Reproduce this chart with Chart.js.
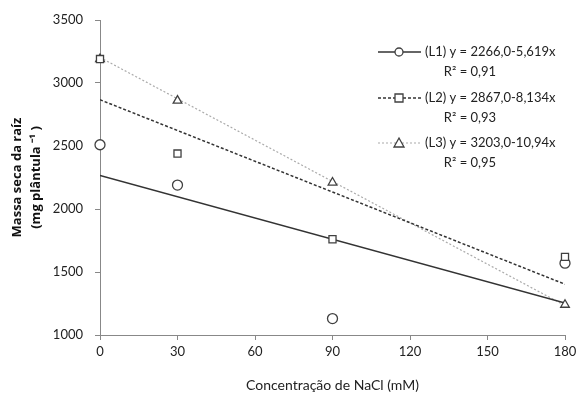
<!DOCTYPE html>
<html>
<head>
<meta charset="utf-8">
<script src="https://cdn.jsdelivr.net/npm/chart.js@4"></script>
<style>
  body { margin: 0; background: #fff; }
</style>
</head>
<body>
<canvas id="grafico" width="582" height="394"></canvas>
<script>
// doses de NaCl (mM)
const doses = [0, 30, 90, 180];
// massa seca observada por linhagem
const massaL1 = [2510, 2190, 1130, 1570];
const massaL2 = [3190, 2440, 1760, 1620];
const massaL3 = [3190, 2860, 2210, 1240];
// coeficientes das regressoes (a + b*x)
const coefL1 = [2266.0, -5.619];
const coefL2 = [2867.0, -8.134];
const coefL3 = [3203.0, -10.94];
const eqTexto = ["(L1) y = 2266,0-5,619x", "(L2) y = 2867,0-8,134x", "(L3) y = 3203,0-10,94x"];
const r2Texto = ["R² = 0,91", "R² = 0,93", "R² = 0,95"];
const xTicks = [0, 30, 60, 90, 120, 150, 180];
const yTicks = [1000, 1500, 2000, 2500, 3000, 3500];

const fonte = "Lato, 'Open Sans', sans-serif";
const cinza = "#404040";

function pontos(ys) {
  return doses.map((x, i) => ({ x: x, y: ys[i] }));
}
function reta(c) {
  return [0, 180].map(x => ({ x: x, y: c[0] + c[1] * x }));
}

const estilos = [
  { forma: "circle", cor: "#333", dash: [], largura: 1.5 },
  { forma: "rect", cor: "#333", dash: [3, 2], largura: 1.5 },
  { forma: "triangle", cor: "#aaa", dash: [2, 2], largura: 1.2 }
];

const datasets = [];
[massaL1, massaL2, massaL3].forEach((m, i) => {
  datasets.push({
    type: "scatter",
    data: pontos(m),
    pointStyle: estilos[i].forma,
    pointRadius: 5,
    borderColor: cinza,
    backgroundColor: "#fff",
    borderWidth: 1.3,
    clip: false,
    order: i === 1 ? 0 : 1
  });
});
[coefL1, coefL2, coefL3].forEach((c, i) => {
  datasets.push({
    type: "line",
    data: reta(c),
    borderColor: estilos[i].cor,
    borderDash: estilos[i].dash,
    borderWidth: estilos[i].largura,
    pointRadius: 0,
    fill: false,
    order: 2
  });
});

// legenda com as equacoes
const legendaEq = {
  id: "legendaEq",
  afterDraw(chart) {
    const ctx = chart.ctx;
    ctx.save();
    const linhasY = [52, 98, 143];
    linhasY.forEach((y, i) => {
      const e = estilos[i];
      ctx.strokeStyle = e.cor;
      ctx.lineWidth = e.largura;
      ctx.setLineDash(e.dash);
      ctx.beginPath();
      ctx.moveTo(378, y);
      ctx.lineTo(421, y);
      ctx.stroke();
      ctx.setLineDash([]);
      // marcador
      ctx.fillStyle = "#fff";
      ctx.strokeStyle = cinza;
      ctx.lineWidth = 1.3;
      ctx.beginPath();
      if (e.forma === "circle") {
        ctx.arc(399, y, 4, 0, Math.PI * 2);
      } else if (e.forma === "rect") {
        ctx.rect(395, y - 4, 8, 8);
      } else {
        ctx.moveTo(399, y - 5);
        ctx.lineTo(404, y + 4);
        ctx.lineTo(394, y + 4);
        ctx.closePath();
      }
      ctx.fill();
      ctx.stroke();
      ctx.fillStyle = "#222";
      ctx.font = "13px " + fonte;
      ctx.textAlign = "left";
      ctx.textBaseline = "middle";
      ctx.fillText(eqTexto[i], 425, y);
      ctx.textAlign = "center";
      ctx.fillText(r2Texto[i], 470, y + 20);
    });
    ctx.restore();
  }
};

new Chart(document.getElementById("grafico"), {
  data: { datasets: datasets },
  options: {
    responsive: false,
    animation: false,
    layout: { padding: { top: 20, right: 17, left: 0, bottom: 0 } },
    plugins: { legend: { display: false }, tooltip: { enabled: false } },
    scales: {
      x: {
        type: "linear",
        min: 0,
        max: 180,
        afterBuildTicks: s => { s.ticks = xTicks.map(v => ({ value: v })); },
        afterFit: s => { s.height = 59; },
        grid: { drawOnChartArea: false, drawTicks: true, tickLength: 5, color: "#888" },
        border: { color: "#888", width: 1 },
        ticks: { color: "#222", font: { family: fonte, size: 13 }, padding: 4, maxRotation: 0,
                 callback: v => String(v) },
        title: {
          display: true,
          text: "Concentração de NaCl (mM)",
          color: "#222",
          font: { family: fonte, size: 14 },
          padding: { top: 2, bottom: 0 }
        }
      },
      y: {
        min: 1000,
        max: 3500,
        afterBuildTicks: s => { s.ticks = yTicks.map(v => ({ value: v })); },
        afterFit: s => { s.width = 100; },
        grid: { drawOnChartArea: false, drawTicks: true, tickLength: 5, color: "#888" },
        border: { color: "#888", width: 1 },
        ticks: { color: "#222", font: { family: fonte, size: 13 }, padding: 12,
                 callback: v => String(v) },
        title: {
          display: true,
          text: ["Massa seca da raíz", "(mg plântula ⁻¹ )"],
          color: "#111",
          font: { family: "'Open Sans', sans-serif", size: 13, weight: "bold", lineHeight: 1.45 },
          padding: { top: 8, bottom: 0 }
        }
      }
    }
  },
  plugins: [legendaEq]
});
</script>
</body>
</html>
